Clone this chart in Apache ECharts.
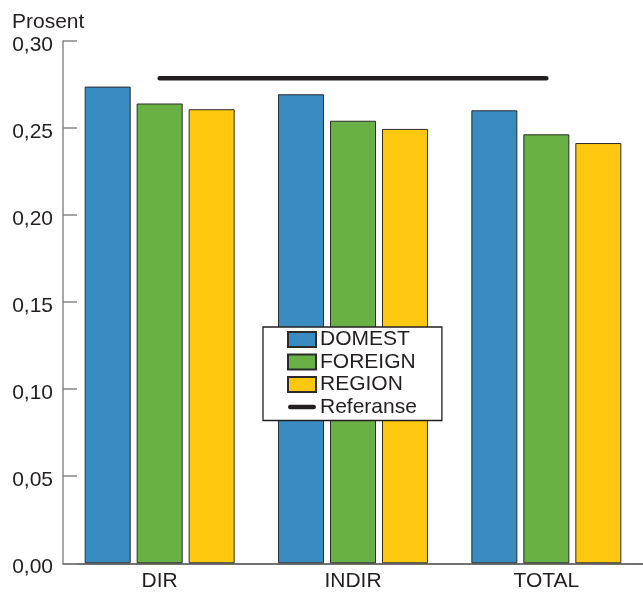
<!DOCTYPE html>
<html>
<head>
<meta charset="utf-8">
<script src="https://cdn.jsdelivr.net/npm/echarts@6/dist/echarts.min.js"></script>
<style>
html,body{margin:0;padding:0;background:#fff;}
#chart{width:643px;height:592px;}
</style>
</head>
<body>
<div id="chart"></div>
<script>
var categories = ['DIR', 'INDIR', 'TOTAL'];
var domest = [0.2738, 0.2694, 0.2602];
var foreign = [0.2641, 0.2542, 0.2464];
var region = [0.2608, 0.2495, 0.2414];
var referanse = [0.2786, 0.2786, 0.2786];
var yTickLabels = ['0,00', '0,05', '0,10', '0,15', '0,20', '0,25', '0,30'];

var FONT = "'Liberation Sans', Arial, Helvetica, sans-serif";
var TXT = '#231f20';
var FS = 21;

var chart = echarts.init(document.getElementById('chart'), null, {renderer: 'canvas'});
var barBorder = {borderColor: '#2b2b2b', borderWidth: 1};
var lineIcon = 'path://M2.5,0 L29.5,0 A2.5,2.5 0 0 1 29.5,5 L2.5,5 A2.5,2.5 0 0 1 2.5,0 Z';

chart.setOption({
  animation: false,
  backgroundColor: '#ffffff',
  title: {
    text: 'Prosent',
    left: 7,
    top: 7,
    textStyle: {fontFamily: FONT, fontSize: FS, fontWeight: 'normal', color: TXT}
  },
  grid: {left: 63, right: 0, top: 41, bottom: 28.7, containLabel: false},
  legend: {
    orient: 'vertical',
    left: 263,
    top: 327,
    padding: [2, 25, 3, 24],
    itemGap: 1.5,
    itemWidth: 28,
    itemHeight: 15,
    icon: 'rect',
    backgroundColor: '#ffffff',
    borderColor: TXT,
    borderWidth: 1.3,
    z: 20,
    textStyle: {fontFamily: FONT, fontSize: FS, color: TXT, padding: [0, 0, 0, -1]},
    data: [
      {name: 'DOMEST', icon: 'rect'},
      {name: 'FOREIGN', icon: 'rect'},
      {name: 'REGION', icon: 'rect'},
      {name: 'Referanse', icon: lineIcon}
    ]
  },
  xAxis: {
    type: 'category',
    data: categories,
    axisLine: {lineStyle: {color: '#444', width: 1.5}},
    axisTick: {inside: true, length: 14, lineStyle: {color: '#777', width: 1.5}},
    axisLabel: {fontFamily: FONT, fontSize: FS, color: TXT, margin: 7}
  },
  yAxis: {
    type: 'value',
    min: 0,
    max: 0.30,
    interval: 0.05,
    splitLine: {show: false},
    axisLine: {show: true, lineStyle: {color: '#888', width: 1.5}},
    axisTick: {show: true, inside: true, length: 14, lineStyle: {color: '#888', width: 1.5}},
    axisLabel: {
      fontFamily: FONT, fontSize: FS, color: TXT, margin: 10,
      verticalAlign: 'top', lineHeight: 8,
      formatter: function (v) { return yTickLabels[Math.round(v / 0.05)]; }
    }
  },
  series: [
    {name: 'DOMEST', type: 'bar', data: domest, barWidth: 46, barGap: '13%',
     itemStyle: Object.assign({color: '#398cc1'}, barBorder)},
    {name: 'FOREIGN', type: 'bar', data: foreign, barWidth: 46, barGap: '13%',
     itemStyle: Object.assign({color: '#69b145'}, barBorder)},
    {name: 'REGION', type: 'bar', data: region, barWidth: 46, barGap: '13%',
     itemStyle: Object.assign({color: '#fec80e'}, barBorder)},
    {name: 'Referanse', type: 'line', data: referanse, symbol: 'none', z: 5,
     itemStyle: {color: TXT},
     lineStyle: {color: TXT, width: 4.5, cap: 'round'}}
  ]
});
</script>
</body>
</html>
